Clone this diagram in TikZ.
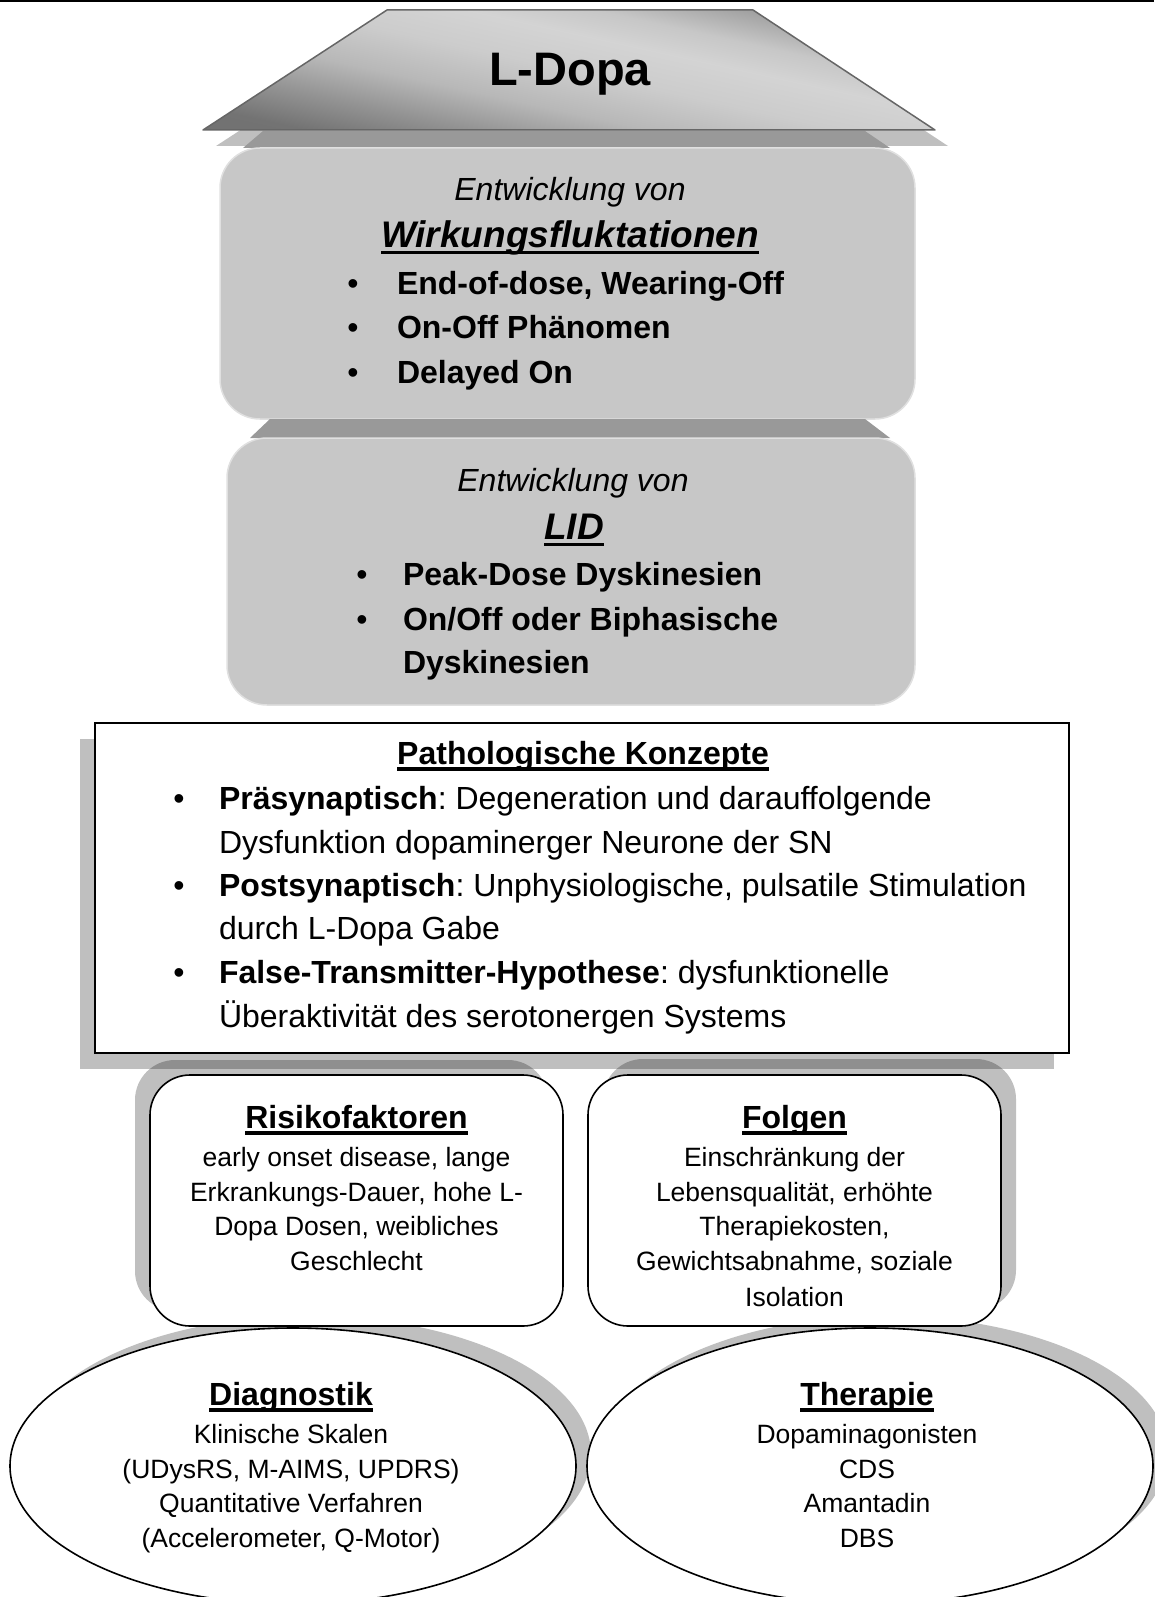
\documentclass[tikz,border=0pt]{standalone}
\usepackage{fontspec}
\setmainfont{Liberation Sans}
\usetikzlibrary{shapes.geometric,shadows}

% underline at a fixed depth, crossing descenders
\newcommand{\uln}[2][6.5pt]{\setbox0=\hbox{#2}\leavevmode\rlap{\rule[-#1]{\wd0}{3.5pt}}\box0}

% grey gradient of the roof: dark lower left, light diagonal band, darker upper right
\pgfdeclareverticalshading{roofshade}{100bp}{%
  color(0bp)=(black!58); color(25bp)=(black!55); color(33bp)=(black!42);
  color(41bp)=(black!28); color(50bp)=(black!20); color(58bp)=(black!17);
  color(64bp)=(black!22); color(75bp)=(black!45); color(100bp)=(black!50)}

\tikzset{
  txt/.style={anchor=base, inner sep=0pt, outer sep=0pt},
  txtw/.style={anchor=base west, inner sep=0pt, outer sep=0pt},
  big/.style={font=\fontsize{32}{38}\selectfont},
  bigb/.style={font=\bfseries\fontsize{32}{38}\selectfont},
  small/.style={font=\fontsize{26.5}{31}\selectfont},
  graybox/.style={draw=black!12, line width=1.5pt, fill=black!22,
    rounded corners=40pt, inner sep=0pt},
  topface/.style={fill=black!40},
  whitebox/.style={draw=black, line width=1.6pt, fill=white,
    rounded corners=40pt, inner sep=0pt},
  oval/.style={ellipse, draw=black, line width=1.6pt, fill=white, inner sep=0pt,
    minimum width=566pt, minimum height=276pt},
  softshadow/.style={fill=black, fill opacity=0.25, draw=none}
}

\begin{document}
\frenchspacing
\begin{tikzpicture}[x=1pt, y=-1pt]
\useasboundingbox (0,0) rectangle (1154,1597);

% rule across the top
\draw[line width=1.6pt] (0,1.2) -- (1154,1.2);

% ---------- roof: L-Dopa ----------
\fill[softshadow] (400,26) -- (766,26) -- (948,146) -- (216,146) -- cycle;
\fill[topface] (243,148) -- (263,131) -- (865,131) -- (890,148) -- cycle;
\node[graybox, minimum width=695pt, minimum height=271pt] (wf) at (567.5,283.5) {};
\shadedraw[shading=roofshade, shading angle=-12.35, draw=black!60, line width=1.5pt,
  line join=round]
  (387,10) -- (753,10) -- (935,130) -- (203,130) -- cycle;
\node[txt, font=\bfseries\fontsize{47}{54}\selectfont] (ldopa) at (570,86) {L-Dopa};

% ---------- Wirkungsfluktationen ----------
\node[txt, font=\itshape\fontsize{32}{38}\selectfont] (wf-a) at (570,201) {Entwicklung von};
\node[txt, font=\bfseries\itshape\fontsize{37}{44}\selectfont] (wf-t) at (570,247.5)
  {\uln[7pt]{Wirkungsfluktationen}};
\node[txt, big] (wf-b1) at (353,294.5) {\textbullet};
\node[txt, big] (wf-b2) at (353,338.5) {\textbullet};
\node[txt, big] (wf-b3) at (353,383) {\textbullet};
\node[txtw, bigb] (wf-1) at (397,294.5) {End-of-dose, Wearing-Off};
\node[txtw, bigb] (wf-2) at (397,338.5) {On-Off Phänomen};
\node[txtw, bigb] (wf-3) at (397,383) {Delayed On};

% ---------- LID ----------
\fill[topface] (250,438) -- (270,419) -- (865,419) -- (890,438) -- cycle;
\node[graybox, minimum width=688pt, minimum height=267pt] (lid) at (571,571.5) {};
\node[txt, font=\itshape\fontsize{32}{38}\selectfont] (lid-a) at (573,491) {Entwicklung von};
\node[txt, font=\bfseries\itshape\fontsize{37}{44}\selectfont] (lid-t) at (574,539)
  {\uln[7pt]{LID}};
\node[txt, big] (lid-b1) at (362,585) {\textbullet};
\node[txt, big] (lid-b2) at (362,630) {\textbullet};
\node[txtw, bigb] (lid-1) at (403,585) {Peak-Dose Dyskinesien};
\node[txtw, bigb] (lid-2) at (403,630) {On/Off oder Biphasische};
\node[txtw, bigb] (lid-3) at (403,673.5) {Dyskinesien};

% ---------- Pathologische Konzepte ----------
\node[draw=black, line width=1.6pt, fill=white, inner sep=0pt,
  minimum width=974pt, minimum height=330pt,
  general shadow={shadow xshift=-15pt, shadow yshift=-16pt, fill=black, fill opacity=0.25}]
  (patho) at (582,888) {};
\node[txt, bigb] (patho-t) at (583,764) {\uln{Pathologische Konzepte}};
\node[txt, big] (pb1) at (179,809) {\textbullet};
\node[txt, big] (pb2) at (179,896.5) {\textbullet};
\node[txt, big] (pb3) at (179,983) {\textbullet};
\node[txtw, big] (p1) at (219,809) {\textbf{Präsynaptisch}: Degeneration und darauffolgende};
\node[txtw, big] (p2) at (219,853) {Dysfunktion dopaminerger Neurone der SN};
\node[txtw, big] (p3) at (219,896.5) {\textbf{Postsynaptisch}: Unphysiologische, pulsatile Stimulation};
\node[txtw, big] (p4) at (219,939.5) {durch L-Dopa Gabe};
\node[txtw, big] (p5) at (219,983) {\textbf{False-Transmitter-Hypothese}: dysfunktionelle};
\node[txtw, big] (p6) at (219,1027) {Überaktivität des serotonergen Systems};

% ---------- Diagnostik / Therapie ----------
\node[oval, general shadow={shadow xshift=15pt, shadow yshift=12pt, fill=black, fill opacity=0.25}]
  (diag) at (293,1466) {};
\node[oval, general shadow={shadow xshift=15pt, shadow yshift=12pt, fill=black, fill opacity=0.25}]
  (ther) at (870,1466) {};

\node[txt, bigb] (diag-t) at (291,1405) {\uln{Diagnostik}};
\node[txt, small] (diag-1) at (291,1443) {Klinische Skalen};
\node[txt, small] (diag-2) at (291,1478) {(UDysRS, M-AIMS, UPDRS)};
\node[txt, small] (diag-3) at (291,1512) {Quantitative Verfahren};
\node[txt, small] (diag-4) at (291,1547) {(Accelerometer, Q-Motor)};

\node[txt, bigb] (ther-t) at (867,1405) {\uln{Therapie}};
\node[txt, small] (ther-1) at (867,1443) {Dopaminagonisten};
\node[txt, small] (ther-2) at (867,1478) {CDS};
\node[txt, small] (ther-3) at (867,1512) {Amantadin};
\node[txt, small] (ther-4) at (867,1547) {DBS};

% ---------- Risikofaktoren / Folgen ----------
\node[whitebox, minimum width=413pt, minimum height=251pt,
  general shadow={shadow xshift=-15pt, shadow yshift=15pt, fill=black, fill opacity=0.25}]
  (risk) at (356.5,1200.5) {};
\node[whitebox, minimum width=413pt, minimum height=251pt,
  general shadow={shadow xshift=15pt, shadow yshift=16pt, fill=black, fill opacity=0.25}]
  (folg) at (794.5,1200.5) {};

\node[txt, bigb] (risk-t) at (356.5,1128) {\uln{Risikofaktoren}};
\node[txt, small] (risk-1) at (356.5,1166) {early onset disease, lange};
\node[txt, small] (risk-2) at (356.5,1201) {Erkrankungs-Dauer, hohe L-};
\node[txt, small] (risk-3) at (356.5,1235.5) {Dopa Dosen, weibliches};
\node[txt, small] (risk-4) at (356.5,1270) {Geschlecht};

\node[txt, bigb] (folg-t) at (794.5,1128) {\uln{Folgen}};
\node[txt, small] (folg-1) at (794.5,1166) {Einschränkung der};
\node[txt, small] (folg-2) at (794.5,1201) {Lebensqualität, erhöhte};
\node[txt, small] (folg-3) at (794.5,1235.5) {Therapiekosten,};
\node[txt, small] (folg-4) at (794.5,1270) {Gewichtsabnahme, soziale};
\node[txt, small] (folg-5) at (794.5,1306) {Isolation};
\end{tikzpicture}
\end{document}
